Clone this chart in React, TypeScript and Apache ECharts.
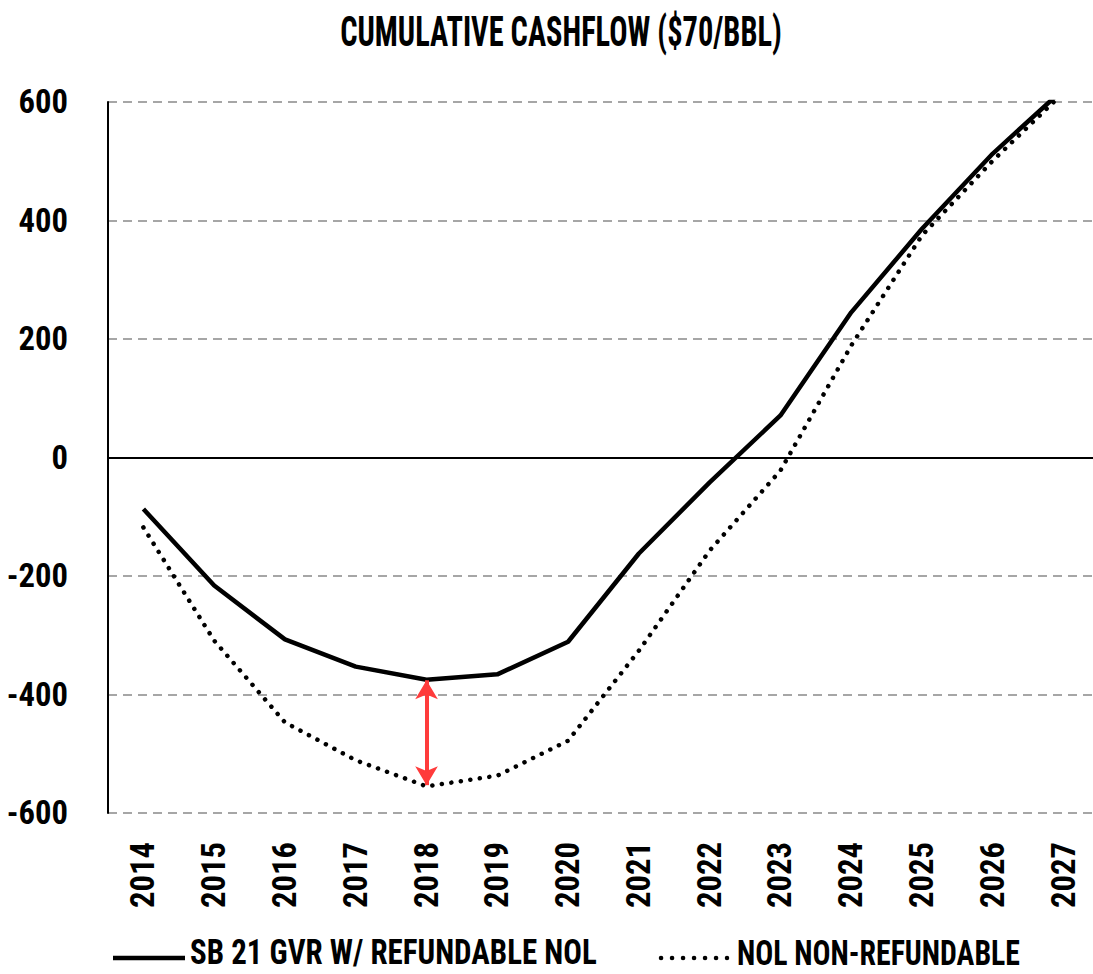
import React, { useEffect, useRef } from "react";
import * as echarts from "echarts";

const years = ["2014", "2015", "2016", "2017", "2018", "2019", "2020", "2021", "2022", "2023", "2024", "2025", "2026", "2027"];
const refundableNol = [-87, -216, -307, -353, -375, -366, -311, -162, -42, 71, 245, 386, 513, 622];
const nonRefundableNol = [-118, -309, -447, -511, -555, -537, -478, -326, -157, -22, 189, 375, 501, 616];
const yMin = -600;
const yMax = 600;
const yInterval = 200;
const gapIndex = 4.17;
const gapTop = -376;
const gapBottom = -553;

const titleText = "CUMULATIVE CASHFLOW ($70/BBL)";
const seriesNames = ["SB 21 GVR W/ REFUNDABLE NOL", "NOL NON-REFUNDABLE"];

const FONT =
  "'Roboto Condensed', 'Noto Sans ExtraCondensed', 'Noto Sans Condensed', 'Open Sans Condensed', 'Liberation Sans Narrow', 'DejaVu Sans Condensed', sans-serif";

function measure(text: string, size: number): number {
  const c = document.createElement("canvas");
  const ctx = c.getContext("2d");
  if (!ctx) return text.length * size * 0.6;
  ctx.font = `bold ${size}px ${FONT}`;
  return ctx.measureText(text).width;
}

export default function App() {
  const ref = useRef<HTMLDivElement>(null);
  useEffect(() => {
    if (!ref.current) return;
    const chart = echarts.init(ref.current, null, { renderer: "svg" });

    const titleSize = 42;
    const titleScale = 442 / measure(titleText, titleSize);
    const legendSize = 36;
    const leg1Scale = 407 / measure(seriesNames[0], legendSize);
    const leg2Scale = 283 / measure(seriesNames[1], legendSize);
    const axisSize = Math.min(36, (34 * 66) / measure("2014", 34));

    const legendText = (x: number, text: string, scaleX: number) => ({
      type: "text",
      x,
      y: 952,
      scaleX,
      style: {
        text,
        fontFamily: FONT,
        fontSize: legendSize,
        lineHeight: 32,
        fontWeight: "bold",
        fill: "#000",
        textAlign: "left",
        textVerticalAlign: "middle",
      },
    });

    chart.setOption({
      animation: false,
      backgroundColor: "#fff",
      textStyle: { fontFamily: FONT },
      graphic: [
        {
          type: "text",
          x: 561,
          y: 32,
          scaleX: titleScale,
          style: {
            text: titleText,
            fontFamily: FONT,
            fontSize: titleSize,
            fontWeight: "bold",
            fill: "#000",
            textAlign: "center",
            textVerticalAlign: "middle",
          },
        },
        {
          type: "line",
          shape: { x1: 113, y1: 958, x2: 185, y2: 958 },
          style: { stroke: "#000", lineWidth: 4.5 },
        },
        legendText(190, seriesNames[0], leg1Scale),
        {
          type: "line",
          shape: { x1: 661, y1: 958, x2: 727, y2: 958 },
          style: { stroke: "#000", lineWidth: 4.5, lineDash: [0.1, 10.9], lineCap: "round" },
        },
        legendText(737, seriesNames[1], leg2Scale),
      ],
      grid: { left: 108, right: -6, top: 102, bottom: 161, containLabel: false, outerBoundsMode: "none" },
      xAxis: {
        type: "category",
        data: years,
        boundaryGap: true,
        axisLine: { show: false },
        axisTick: { show: false },
        axisLabel: {
          rotate: 90,
          margin: 29,
          fontFamily: FONT,
          fontSize: axisSize,
          fontWeight: "bold",
          color: "#000",
        },
        splitLine: { show: false },
      },
      yAxis: {
        type: "value",
        min: yMin,
        max: yMax,
        interval: yInterval,
        axisLine: { show: true, lineStyle: { color: "#000", width: 2 } },
        axisTick: { show: false },
        axisLabel: {
          margin: 40,
          fontFamily: FONT,
          fontSize: axisSize,
          fontWeight: "bold",
          color: "#000",
        },
        splitLine: { show: true, lineStyle: { color: "#a6a6a6", width: 2, type: [9, 6] } },
      },
      series: [
        {
          name: seriesNames[0],
          type: "line",
          data: refundableNol,
          symbol: "none",
          clip: true,
          lineStyle: { color: "#000", width: 4.5 },
          itemStyle: { color: "#000" },
          markLine: {
            silent: true,
            symbol: "none",
            label: { show: false },
            lineStyle: { color: "#000", width: 2, type: "solid" },
            data: [{ yAxis: 0 }],
          },
        },
        {
          name: seriesNames[1],
          type: "line",
          data: nonRefundableNol,
          symbol: "none",
          clip: true,
          lineStyle: { color: "#000", width: 4.5, type: [0.1, 9.5], cap: "round" },
          itemStyle: { color: "#000" },
          markLine: {
            silent: true,
            symbol: ["arrow", "arrow"],
            symbolSize: [17, 19],
            label: { show: false },
            lineStyle: { color: "#ff3b3b", width: 4, type: "solid" },
            data: [[{ coord: [gapIndex, gapTop] }, { coord: [gapIndex, gapBottom] }]],
          },
        },
      ],
    });
    return () => chart.dispose();
  }, []);
  return <div ref={ref} style={{ position: "absolute", left: 0, top: 0, width: 1093, height: 974 }} />;
}
